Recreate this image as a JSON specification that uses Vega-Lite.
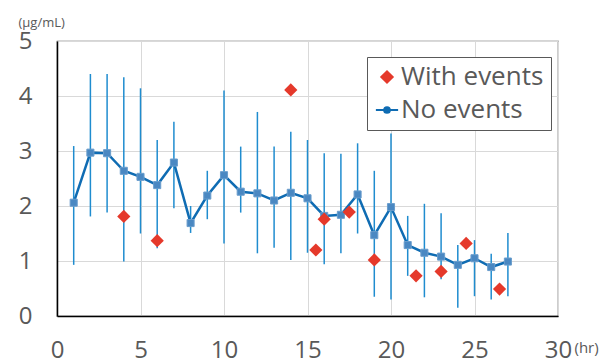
{
  "$schema": "https://vega.github.io/schema/vega-lite/v6.json",
  "width": 501,
  "height": 275,
  "autosize": {"type": "none"},
  "padding": {"left": 57, "top": 41, "right": 45, "bottom": 45},
  "background": "white",
  "config": {
    "font": "Open Sans",
    "view": {"stroke": "#595959", "strokeWidth": 1.2},
    "axis": {
      "gridColor": "#d9d9d9",
      "gridWidth": 1,
      "domainColor": "#000000",
      "domainWidth": 1.5,
      "ticks": false,
      "labelColor": "#595959",
      "labelFontSize": 24,
      "titleColor": "#595959",
      "titleFontWeight": "normal"
    }
  },
  "datasets": {
    "noev": [
      {"hr": 1, "mean": 2.06, "lo": 0.93, "hi": 3.09},
      {"hr": 2, "mean": 2.97, "lo": 1.81, "hi": 4.4},
      {"hr": 3, "mean": 2.96, "lo": 1.88, "hi": 4.4},
      {"hr": 4, "mean": 2.64, "lo": 0.99, "hi": 4.34},
      {"hr": 5, "mean": 2.53, "lo": 1.5, "hi": 4.14},
      {"hr": 6, "mean": 2.38, "lo": 1.23, "hi": 3.2},
      {"hr": 7, "mean": 2.79, "lo": 1.96, "hi": 3.53},
      {"hr": 8, "mean": 1.69, "lo": 1.51, "hi": 2.0},
      {"hr": 9, "mean": 2.19, "lo": 1.76, "hi": 2.64},
      {"hr": 10, "mean": 2.56, "lo": 1.32, "hi": 4.1},
      {"hr": 11, "mean": 2.26, "lo": 1.88, "hi": 3.08},
      {"hr": 12, "mean": 2.23, "lo": 1.14, "hi": 3.71},
      {"hr": 13, "mean": 2.1, "lo": 1.24, "hi": 3.08},
      {"hr": 14, "mean": 2.24, "lo": 1.02, "hi": 3.35},
      {"hr": 15, "mean": 2.14, "lo": 1.15, "hi": 3.2},
      {"hr": 16, "mean": 1.82, "lo": 0.94, "hi": 2.96},
      {"hr": 17, "mean": 1.84, "lo": 1.14, "hi": 2.95},
      {"hr": 18, "mean": 2.21, "lo": 1.5, "hi": 3.14},
      {"hr": 19, "mean": 1.47, "lo": 0.35, "hi": 2.64},
      {"hr": 20, "mean": 1.98, "lo": 0.3, "hi": 3.32},
      {"hr": 21, "mean": 1.29, "lo": 0.73, "hi": 1.82},
      {"hr": 22, "mean": 1.15, "lo": 0.34, "hi": 2.04},
      {"hr": 23, "mean": 1.08, "lo": 0.67, "hi": 1.87},
      {"hr": 24, "mean": 0.93, "lo": 0.15, "hi": 1.29},
      {"hr": 25, "mean": 1.05, "lo": 0.36, "hi": 1.38},
      {"hr": 26, "mean": 0.89, "lo": 0.3, "hi": 1.13},
      {"hr": 27, "mean": 0.99, "lo": 0.36, "hi": 1.51}
    ],
    "withev": [
      {"hr": 4, "conc": 1.81, "series": "With events"},
      {"hr": 6, "conc": 1.37, "series": "With events"},
      {"hr": 14, "conc": 4.11, "series": "With events"},
      {"hr": 15.5, "conc": 1.2, "series": "With events"},
      {"hr": 16, "conc": 1.76, "series": "With events"},
      {"hr": 17.5, "conc": 1.89, "series": "With events"},
      {"hr": 19, "conc": 1.02, "series": "With events"},
      {"hr": 21.5, "conc": 0.73, "series": "With events"},
      {"hr": 23, "conc": 0.81, "series": "With events"},
      {"hr": 24.5, "conc": 1.32, "series": "With events"},
      {"hr": 26.5, "conc": 0.49, "series": "With events"}
    ]
  },
  "layer": [
    {
      "data": {"name": "noev"},
      "mark": {"type": "rule", "color": "#1f8ccf", "strokeWidth": 1.5},
      "encoding": {
        "x": {"field": "hr", "type": "quantitative", "scale": {"domain": [0, 30], "nice": false},
          "axis": {"values": [0, 5, 10, 15, 20, 25, 30], "labelPadding": 22, "title": "(hr)", "titleFontSize": 15, "titleX": 517, "titleY": 31, "titleAlign": "left", "titleBaseline": "middle", "labelFlush": false}},
        "y": {"field": "lo", "type": "quantitative", "scale": {"domain": [0, 5], "nice": false},
          "axis": {"values": [0, 1, 2, 3, 4, 5], "labelPadding": 25, "title": "(μg/mL)", "titleFontSize": 13, "titleAngle": 0, "titleX": -39, "titleY": -19, "titleAlign": "left", "titleBaseline": "middle"}},
        "y2": {"field": "hi"}
      }
    },
    {
      "data": {"name": "noev"},
      "mark": {"type": "line", "color": "#0f6cb3", "strokeWidth": 2.5},
      "encoding": {
        "x": {"field": "hr", "type": "quantitative"},
        "y": {"field": "mean", "type": "quantitative"}
      }
    },
    {
      "data": {"name": "noev"},
      "mark": {"type": "point", "filled": true, "shape": "square", "size": 50, "color": "#4a88c2", "opacity": 1, "stroke": "#6a9dcc", "strokeWidth": 1},
      "encoding": {
        "x": {"field": "hr", "type": "quantitative"},
        "y": {"field": "mean", "type": "quantitative"}
      }
    },
    {
      "data": {"name": "withev"},
      "mark": {"type": "point", "filled": true, "size": 175, "opacity": 1},
      "encoding": {
        "x": {"field": "hr", "type": "quantitative"},
        "y": {"field": "conc", "type": "quantitative"},
        "color": {"field": "series", "type": "nominal",
          "scale": {"domain": ["With events", "No events"], "range": ["#e5392b", "#0f6cb3"]},
          "legend": {
            "title": null,
            "orient": "none",
            "legendX": 310,
            "legendY": 16,
            "padding": 7,
            "strokeColor": "#595959",
            "fillColor": "white",
            "labelFontSize": 26,
            "labelColor": "#595959",
            "labelOffset": 1,
            "rowPadding": 7,
            "symbolSize": 130,
            "symbolOpacity": 1,
            "encode": {"symbols": {"update": {"stroke": {"scale": "color", "field": "value"}, "strokeWidth": {"value": 2}}}}
          }},
        "shape": {"field": "series", "type": "nominal",
          "scale": {"domain": ["With events", "No events"], "range": ["diamond", "M-1.95,0H1.95M-0.5,0A0.5,0.5 0 1,0 0.5,0A0.5,0.5 0 1,0 -0.5,0Z"]},
          "legend": null}
      }
    }
  ]
}
